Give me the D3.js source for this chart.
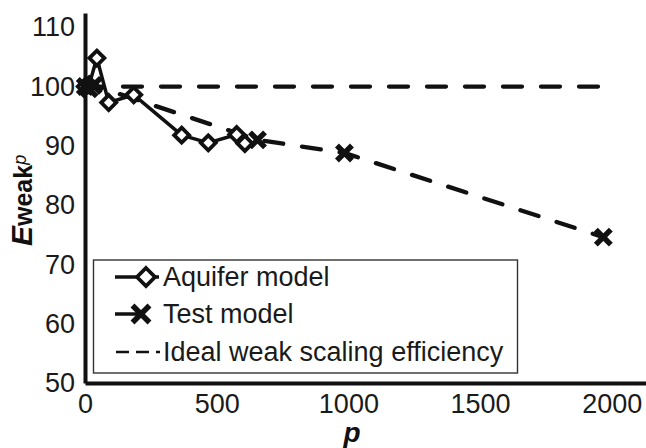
<!DOCTYPE html>
<html>
<head>
<meta charset="utf-8">
<script src="https://cdn.jsdelivr.net/npm/d3@7"></script>
<style>
  html, body { margin: 0; padding: 0; background: #fff; }
  svg { display: block; font-family: "Liberation Sans", Arial, sans-serif; }
</style>
</head>
<body>
<svg id="chart" width="646" height="448"></svg>
<script>
// Weak scaling efficiency vs. number of processes
const aquiferP   = [1, 16, 45, 90, 185, 367, 468, 576, 607];
const aquiferE   = [100, 100.3, 104.8, 97.3, 98.6, 91.8, 90.5, 91.9, 90.4];
const testP      = [1, 16, 32, 655, 985, 1968];
const testE      = [100, 99.6, 100.2, 91.0, 88.8, 74.6];
const idealP     = [0, 2000];
const idealE     = [100, 100];
const xTicks     = [0, 500, 1000, 1500, 2000];
const yTicks     = [50, 60, 70, 80, 90, 100, 110];
const legendLabels = ["Aquifer model", "Test model", "Ideal weak scaling efficiency"];

const svg = d3.select("#chart");
const x = d3.scaleLinear().domain([0, 2130]).range([85, 646]);
const y = d3.scaleLinear().domain([50, 112.4]).range([383, 13]);

// axes
const xAxis = svg.append("g")
  .attr("transform", `translate(0,${y(50)})`)
  .call(d3.axisBottom(x).tickValues(xTicks).tickSize(0).tickPadding(11).tickFormat(d3.format("d")));
const yAxis = svg.append("g")
  .attr("transform", `translate(${x(0)},0)`)
  .call(d3.axisLeft(y).tickValues(yTicks).tickSize(0).tickPadding(10).tickFormat(d3.format("d")));
[xAxis, yAxis].forEach(a => {
  a.select(".domain").attr("stroke", "#111").attr("stroke-width", 4);
  a.selectAll("text").attr("font-size", 27).attr("fill", "#1a1a1a")
    .attr("font-family", "'Liberation Sans', Arial, sans-serif");
});

// axis titles
svg.append("text")
  .attr("x", 352).attr("y", 442)
  .attr("text-anchor", "middle")
  .attr("font-size", 28).attr("font-weight", "bold").attr("font-style", "italic")
  .attr("fill", "#111")
  .text("p");

const yl = svg.append("text")
  .attr("transform", "translate(32,246) rotate(-90)")
  .attr("fill", "#111");
yl.append("tspan").attr("font-size", 30).attr("font-weight", "bold").attr("font-style", "italic").text("E");
yl.append("tspan").attr("font-size", 25).attr("font-weight", "bold").text("weak");
yl.append("tspan").attr("font-size", 18).attr("font-style", "italic").attr("dy", -6).text("p");

// series lines
const lineGen = d3.line().x(d => x(d[0])).y(d => y(d[1]));
const zip = (a, b) => a.map((v, i) => [v, b[i]]);

svg.append("path")
  .datum(zip(idealP, idealE))
  .attr("d", lineGen)
  .attr("fill", "none").attr("stroke", "#111").attr("stroke-width", 4.3)
  .attr("stroke-linecap", "round").attr("stroke-dasharray", "19,19");

svg.append("path")
  .datum(zip(testP, testE))
  .attr("d", lineGen)
  .attr("fill", "none").attr("stroke", "#111").attr("stroke-width", 4.3)
  .attr("stroke-linecap", "round").attr("stroke-dasharray", "19,19");

svg.append("path")
  .datum(zip(aquiferP, aquiferE))
  .attr("d", lineGen)
  .attr("fill", "none").attr("stroke", "#111").attr("stroke-width", 3.5)
  .attr("stroke-linejoin", "round");

// marker shapes
function diamond(g, cx, cy, r) {
  g.append("path")
    .attr("d", `M${cx},${cy - r}L${cx + r},${cy}L${cx},${cy + r}L${cx - r},${cy}Z`)
    .attr("fill", "#fff").attr("stroke", "#111").attr("stroke-width", 3.8);
}
function cross(g, cx, cy, r) {
  g.append("path")
    .attr("d", `M${cx - r},${cy - r}L${cx + r},${cy + r}M${cx - r},${cy + r}L${cx + r},${cy - r}`)
    .attr("fill", "none").attr("stroke", "#111").attr("stroke-width", 5.5);
}

const marks = svg.append("g");
zip(aquiferP, aquiferE).forEach(d => diamond(marks, x(d[0]), y(d[1]), 7.5));
zip(testP, testE).forEach(d => cross(marks, x(d[0]), y(d[1]), 7.5));

// legend
const lg = svg.append("g");
lg.append("rect")
  .attr("x", 93.5).attr("y", 260).attr("width", 424).attr("height", 113)
  .attr("fill", "#fff").attr("stroke", "#333").attr("stroke-width", 1.4);

const rowY = [277, 314, 352];
lg.append("line").attr("x1", 115).attr("x2", 159).attr("y1", rowY[0]).attr("y2", rowY[0])
  .attr("stroke", "#111").attr("stroke-width", 3.5);
diamond(lg, 146, rowY[0], 9);
lg.append("line").attr("x1", 115).attr("x2", 142).attr("y1", rowY[1]).attr("y2", rowY[1])
  .attr("stroke", "#111").attr("stroke-width", 3.5);
cross(lg, 141, rowY[1], 8.5);
lg.append("line").attr("x1", 116).attr("x2", 160).attr("y1", rowY[2]).attr("y2", rowY[2])
  .attr("stroke", "#111").attr("stroke-width", 2.5).attr("stroke-dasharray", "13,7");

legendLabels.forEach((t, i) => {
  lg.append("text")
    .attr("x", 163).attr("y", rowY[i] + 9)
    .attr("font-size", 27).attr("fill", "#1a1a1a")
    .text(t);
});
</script>
</body>
</html>
